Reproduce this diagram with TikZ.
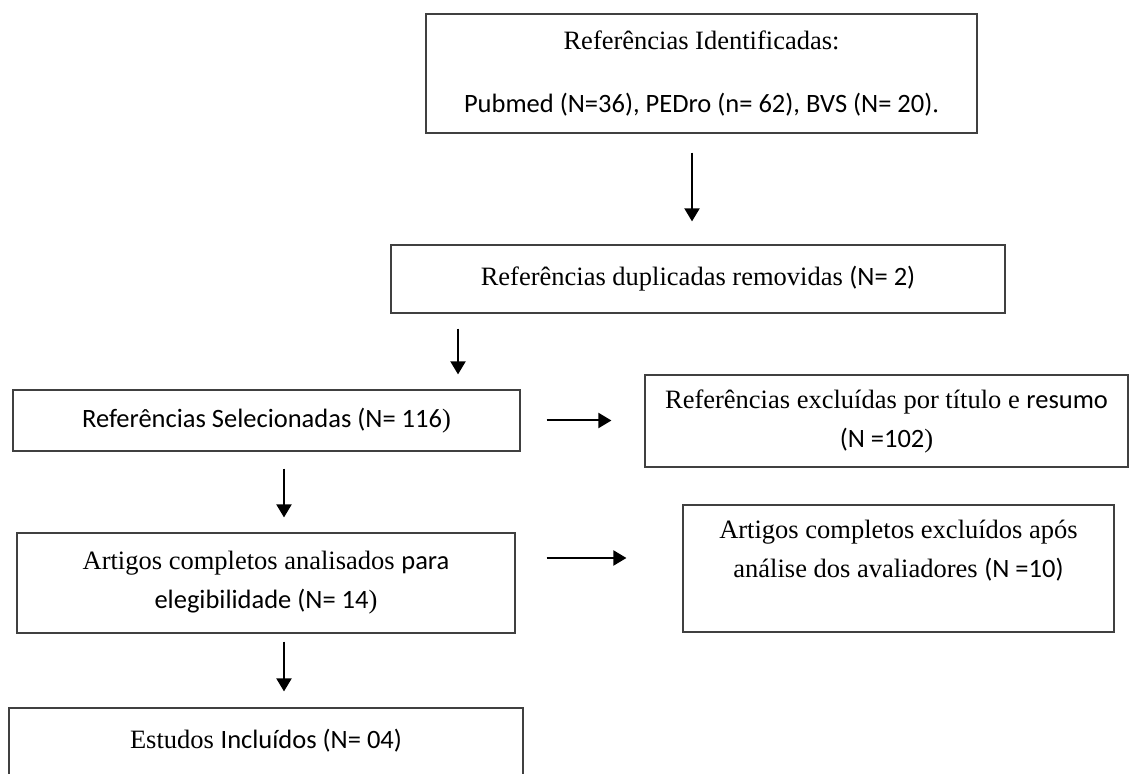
\documentclass[tikz,border=0pt]{standalone}
\usepackage{fontspec}
\setmainfont{Liberation Serif}
\newfontfamily\calib{Carlito}
\usetikzlibrary{arrows.meta}

\tikzset{
  box/.style={draw=black!75, line width=0.6pt, align=center, inner sep=0pt,
    font=\fontsize{13.25}{19.5}\selectfont},
  flow/.style={line width=1pt, -{Triangle[width=7.5pt,length=6.5pt]}}
}

\begin{document}
\begin{tikzpicture}[x=0.5pt, y=-0.5pt]
% page frame
\clip (0,0) rectangle (1140,774);
\fill[white] (0,0) rectangle (1140,774);
% boxes
\node[box, minimum width=275.5pt, minimum height=59.5pt] (ident) at (701.5,73.5)
  {Referências Identificadas:\\[12pt]{\calib Pubmed (N=36), PEDro (n= 62), BVS (N= 20)}.};
\node[box, minimum width=307pt, minimum height=34pt] (dupl) at (698,279)
  {Referências duplicadas removidas {\calib (N= 2)}};
\node[box, minimum width=253.5pt, minimum height=30.5pt] (selec) at (266.5,420.5)
  {{\calib Referências Selecionadas (N= 116})};
\node[box, minimum width=241.5pt, minimum height=46pt] (exclA) at (886.5,421)
  {Referências excluídas por título e {\calib resumo}\\{\calib (N =102})};
\node[box, minimum width=249pt, minimum height=50pt] (anal) at (266,583)
  {Artigos completos analisados {\calib para}\\{\calib elegibilidade (N= 14})};
\node[box, minimum width=215.5pt, minimum height=63.5pt] (exclB) at (898.5,568.5)
  {Artigos completos excluídos após\\análise dos avaliadores {\calib (N =10)}\\\mbox{}};
\node[box, minimum width=257pt, minimum height=50pt] (incl) at (266,758)
  {Estudos {\calib Incluídos (N= 04)}\\\mbox{}};
% arrow positions
\coordinate (p1) at (692,0);
\coordinate (p2) at (458,0);
\coordinate (p3) at (284,0);
\coordinate (q2) at (0,558);
% arrows
\draw[flow, shorten <=9.5pt, shorten >=11.5pt] (ident.south -| p1) -- (dupl.north -| p1);
\draw[flow, shorten <=7.5pt, shorten >=7.5pt] (dupl.south -| p2) -- (selec.north -| p2);
\draw[flow, shorten <=13pt, shorten >=16.5pt] (selec.east) -- (exclA.west |- selec.east);
\draw[flow, shorten <=8.5pt, shorten >=7.5pt] (selec.south -| p3) -- (anal.north -| p3);
\draw[flow, shorten <=15.5pt, shorten >=28pt] (anal.east |- q2) -- (exclB.west |- q2);
\draw[flow, shorten <=4pt, shorten >=8pt] (anal.south -| p3) -- (incl.north -| p3);
\end{tikzpicture}
\end{document}
